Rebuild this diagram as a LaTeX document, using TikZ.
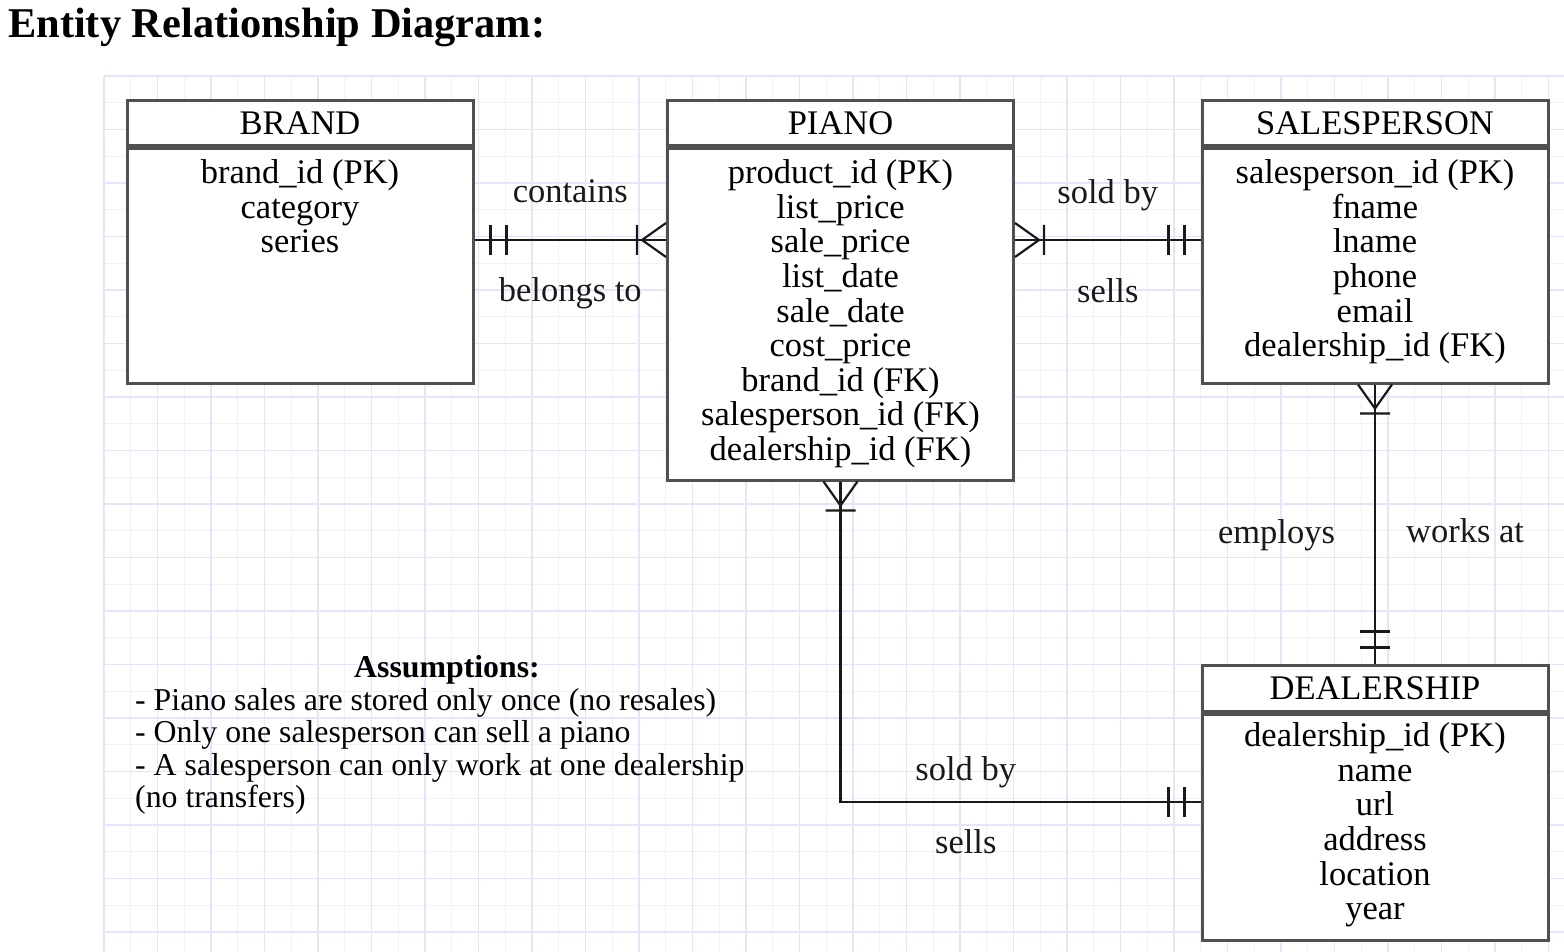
\documentclass[tikz,border=0pt]{standalone}
\usepackage{fontspec}
\setmainfont{Liberation Serif}
\usetikzlibrary{positioning, calc}
\definecolor{gridmajor}{RGB}{228,228,252}
\definecolor{gridminor}{RGB}{241,241,248}
\definecolor{boxline}{RGB}{80,80,80}
\tikzset{
  entity/.style={draw=boxline, fill=white, line width=3pt, minimum width=346pt, inner sep=0pt},
  enthead/.style={entity, minimum height=45pt, font=\fontsize{34.5}{34.6}\selectfont},
  entbody/.style={entity},
  attrs/.style={align=center, inner sep=0pt, font=\fontsize{34.5}{34.6}\selectfont},
  rel/.style={inner sep=0pt, font=\fontsize{34.5}{34.6}\selectfont},
  link/.style={line width=2.2pt, black!90},
  onlyone/.pic={\draw[link] (16,-15) -- (16,15) (32,-15) -- (32,15);},
  onemany/.pic={\draw[link] (0,-17) -- (24,0) -- (0,17) (29,-15) -- (29,15);}
}

\begin{document}
\begin{tikzpicture}[x=1pt, y=-1pt]
  \useasboundingbox (0,0) rectangle (1564,952);
  % Grid
  \foreach \i in {0,...,54}
    \draw[gridminor, line width=1.2pt] ({104+26.75*\i},76) -- ({104+26.75*\i},952);
  \foreach \j in {0,...,32}
    \draw[gridminor, line width=1.2pt] (104,{76+26.75*\j}) -- (1564,{76+26.75*\j});
  \foreach \i in {0,2,...,54}
    \draw[gridmajor, line width=1.4pt] ({104+26.75*\i},76) -- ({104+26.75*\i},952);
  \foreach \j in {0,2,...,32}
    \draw[gridmajor, line width=1.4pt] (104,{76+26.75*\j}) -- (1564,{76+26.75*\j});

  \node[anchor=base west, inner sep=0pt, font=\fontsize{42.4}{42}\selectfont\bfseries] (title) at (8,38) {Entity Relationship Diagram:};

  % Entities
  \node[enthead] (brand) at (300,123.5) {BRAND};
  \node[entbody, minimum height=234pt, below=0pt of brand] (brandbox) {};
  \node[attrs, below=12pt of brandbox.north] (brandattrs) {brand\_id (PK)\\category\\series};

  \node[enthead] (piano) at (840.5,123.5) {PIANO};
  \node[entbody, minimum height=331pt, below=0pt of piano] (pianobox) {};
  \node[attrs, below=12pt of pianobox.north] (pianoattrs) {product\_id (PK)\\list\_price\\sale\_price\\list\_date\\sale\_date\\cost\_price\\brand\_id (FK)\\salesperson\_id (FK)\\dealership\_id (FK)};

  \node[enthead] (sales) at (1375,123.5) {SALESPERSON};
  \node[entbody, minimum height=234pt, below=0pt of sales] (salesbox) {};
  \node[attrs, below=12pt of salesbox.north] (salesattrs) {salesperson\_id (PK)\\fname\\lname\\phone\\email\\dealership\_id (FK)};

  \node[enthead, minimum height=46pt] (dealer) at (1375,688) {DEALERSHIP};
  \node[entbody, minimum height=226pt, below=0pt of dealer] (dealerbox) {};
  \node[attrs, below=10pt of dealerbox.north] (dealerattrs) {dealership\_id (PK)\\name\\url\\address\\location\\year};

  % Relationships
  \coordinate (bp) at (0,240);
  \coordinate (pd) at (0,802);
  \draw[link] (brandbox.east |- bp) -- node[rel, above=36pt] (contains) {contains}
    node[rel, below=36pt] (belongs) {belongs to} (pianobox.west |- bp);
  \draw[link] (pianobox.east |- bp) -- node[rel, above=28pt] (soldby) {sold by}
    node[rel, below=37pt] (sells) {sells} (salesbox.west |- bp);
  \draw[link] (salesbox.south) -- node[rel, left=39pt, yshift=-11pt] (employs) {employs}
    node[rel, right=30pt, yshift=-7pt] (worksat) {works at} (dealer.north);
  \draw[link] (pianobox.south) |- node[rel, pos=0.674, above=13pt] (dsoldby) {sold by}
    node[rel, pos=0.674, below=26pt] (dsells) {sells} (dealerbox.west |- pd);

  \pic at (brandbox.east |- bp) {onlyone};
  \pic[rotate=180] at (pianobox.west |- bp) {onemany};
  \pic at (pianobox.east |- bp) {onemany};
  \pic[rotate=180] at (salesbox.west |- bp) {onlyone};
  \pic[rotate=-90] at (salesbox.south) {onemany};
  \pic[rotate=90] at (dealer.north) {onlyone};
  \pic[rotate=-90] at (pianobox.south) {onemany};
  \pic[rotate=180] at (dealerbox.west |- pd) {onlyone};

  % Notes
  \node[font=\fontsize{31.8}{32.4}\selectfont\bfseries, inner sep=0pt] (assume) at (447,670) {Assumptions:};
  \node[anchor=north west, align=left, inner sep=0pt, font=\fontsize{31.8}{32.4}\selectfont] (notes) at (135,688)
    {- Piano sales are stored only once (no resales)\\- Only one salesperson can sell a piano\\- A salesperson can only work at one dealership\\(no transfers)};
\end{tikzpicture}
\end{document}
